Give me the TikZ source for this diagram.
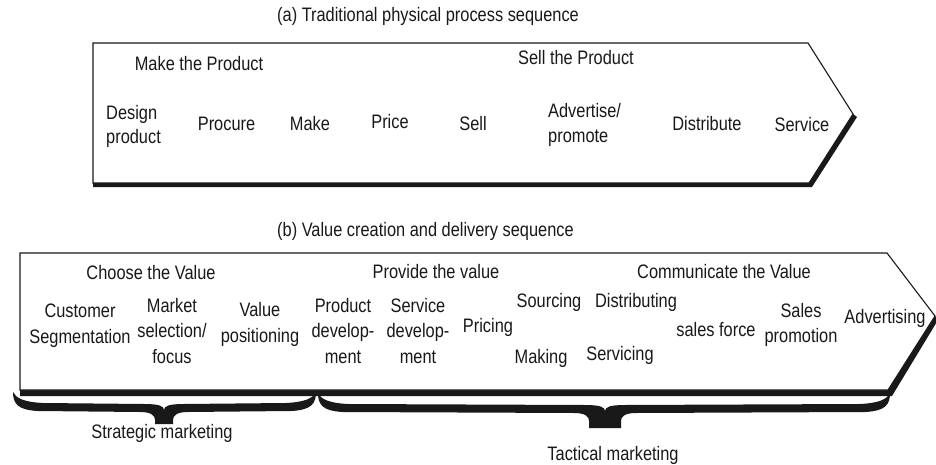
\documentclass[tikz,border=0pt]{standalone}
\usepackage{fontspec}
\setmainfont[FakeStretch=0.84]{Liberation Sans}
\newcommand{\mkbrace}[6]{%
\fill[bracecol] (#1,#4) .. controls (#1,#4+12) and (#1+5,#4+18) .. (#1+25,#4+19)
 -- (#3-#6-15,#4+20) .. controls (#3-#6-3,#4+20) and (#3-#6,#4+24) .. (#3-#6,#4+28)
 -- (#3-#6,#5) -- (#3+#6,#5) -- (#3+#6,#4+28)
 .. controls (#3+#6,#4+24) and (#3+#6+3,#4+20) .. (#3+#6+15,#4+20)
 -- (#2-25,#4+19) .. controls (#2-5,#4+18) and (#2,#4+12) .. (#2,#4)
 .. controls (#2-3,#4+6) and (#2-10,#4+10) .. (#2-30,#4+11)
 -- (#3+20,#4+12) .. controls (#3+5,#4+12) and (#3,#4+14) .. (#3,#4+18)
 .. controls (#3,#4+14) and (#3-5,#4+12) .. (#3-20,#4+12)
 -- (#1+30,#4+11) .. controls (#1+10,#4+10) and (#1+3,#4+6) .. (#1,#4) -- cycle;}
\colorlet{bracecol}{black!90}
\begin{document}
\begin{tikzpicture}[x=1pt,y=-1pt,
  lbl/.style={font=\fontsize{19.5}{24.5}\selectfont, inner sep=0pt, align=center, text=black!90},
  lblb/.style={font=\fontsize{19.5}{25.5}\selectfont, inner sep=0pt, align=center, text=black!90},
  outline/.style={draw=black!90, line width=1.1pt, line join=miter, fill=white},
  shadowband/.style={fill=black!90}]
\useasboundingbox (0,0) rectangle (936,465);

% ---------- (a) ----------
\node[lbl, anchor=west] (ta) at (277,16.5) {(a) Traditional physical process sequence};
\fill[shadowband] (93,181) -- (809,181) -- (853,114) -- (857,117) -- (812,187) -- (93,187) -- cycle;
\draw[outline] (93,43) -- (808,43) -- (853,114) -- (809,183) -- (93,183) -- cycle;

\node[lbl] (mp) at (199,64) {Make the Product};
\node[lbl] (sp) at (576,58) {Sell the Product};
\node[lbl, align=left, anchor=west] (dp) at (106,126.5) {Design\\product};
\node[lbl] (pc) at (226.5,123.5) {Procure};
\node[lbl] (mk) at (310,123.5) {Make};
\node[lbl] (pr) at (390,122) {Price};
\node[lbl] (se) at (473,123.5) {Sell};
\node[lbl, align=left, anchor=west] (ap) at (548,125) {Advertise/\\promote};
\node[lbl] (di) at (707,123.5) {Distribute};
\node[lbl] (sv) at (802,125) {Service};

% ---------- (b) ----------
\node[lbl, anchor=west] (tb) at (277,231) {(b) Value creation and delivery sequence};
\fill[shadowband] (20,389) -- (888,389) -- (935,316) -- (938,320) -- (892,396) -- (20,396) -- cycle;
\draw[outline] (20,253) -- (887,253) -- (935,316) -- (888,390) -- (20,390) -- cycle;

\node[lblb] (cv) at (151,273) {Choose the Value};
\node[lblb] (pv) at (436,272) {Provide the value};
\node[lblb] (mv) at (724,272) {Communicate the Value};

\node[lblb] (cs) at (80,325.5) {Customer\\Segmentation};
\node[lblb] (ms) at (172,331) {Market\\selection/\\focus};
\node[lblb] (vp) at (260,324.5) {Value\\positioning};
\node[lblb] (pd) at (343,331) {Product\\develop-\\ment};
\node[lblb] (sd) at (418,331) {Service\\develop-\\ment};
\node[lblb] (pi) at (488,327) {Pricing};
\node[lblb] (so) at (549,302) {Sourcing};
\node[lblb] (ma) at (541,358) {Making};
\node[lblb] (ds) at (636,302) {Distributing};
\node[lblb] (sc) at (620,355) {Servicing};
\node[lblb] (sf) at (716,330) {sales force};
\node[lblb] (spr) at (801,325) {Sales\\promotion};
\node[lblb] (ad) at (885,318) {Advertising};

% ---------- braces ----------
\mkbrace{13}{316}{164}{392}{424}{9}
\mkbrace{318}{890}{605}{393}{428}{16}
\node[lblb] (sm) at (162,433) {Strategic marketing};
\node[lblb] (tm) at (613,455) {Tactical marketing};
\end{tikzpicture}
\end{document}
